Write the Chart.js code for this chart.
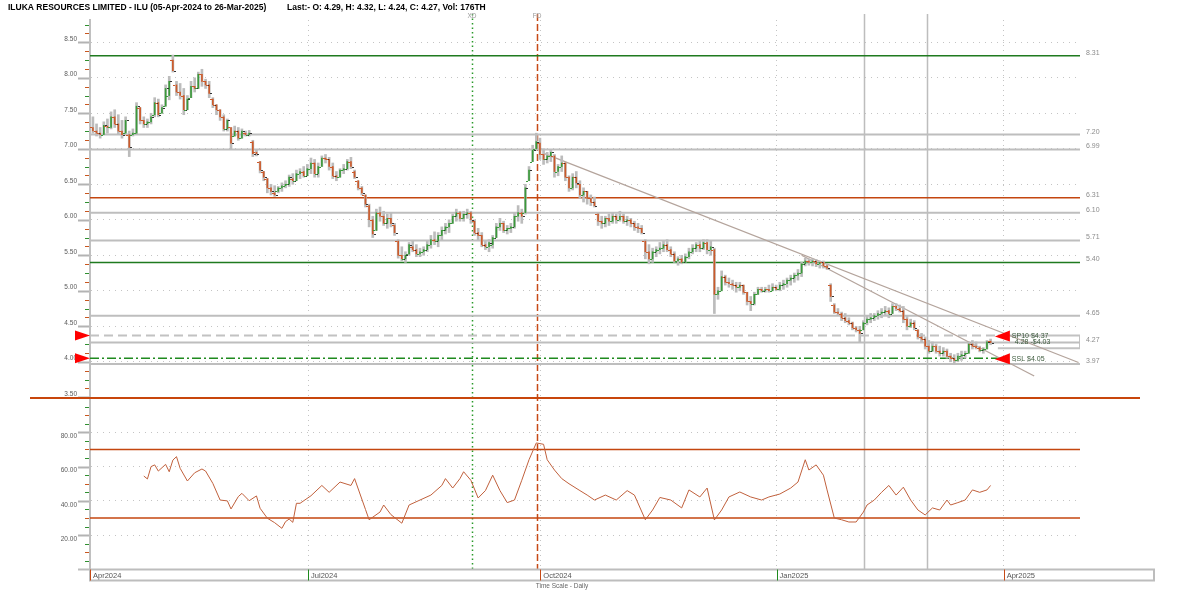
<!DOCTYPE html>
<html>
<head>
<meta charset="utf-8">
<title>ILU daily</title>
<script src="https://cdn.jsdelivr.net/npm/chart.js@4.4.1/dist/chart.umd.min.js"></script>
<style>
  html, body { margin: 0; padding: 0; background: #fff; }
  #box { position: relative; width: 1200px; height: 590px; }
</style>
</head>
<body>
<div id="box"><canvas id="priceChart" width="1200" height="590"></canvas></div>
<script>
// daily bars, index 0 = 05-Apr-2024 ... 247 = 26-Mar-2025
const opens = [
  7.30,7.25,7.22,7.20,7.32,7.30,7.45,7.35,7.25,7.22, 7.20,7.20,7.22,7.58,7.40,7.35,7.38,7.48,7.65,7.50,
  7.60,7.75,8.25,7.90,7.80,7.75,7.55,7.72,7.88,7.85, 8.05,7.95,7.90,7.70,7.62,7.55,7.45,7.28,7.30,7.18,
  7.25,7.15,7.22,7.20,7.10,6.95,6.82,6.68,6.58,6.45, 6.38,6.40,6.45,6.48,6.50,6.58,6.55,6.65,6.68,6.62,
  6.72,6.80,6.65,6.75,6.87,6.85,6.75,6.62,6.60,6.70, 6.72,6.82,6.68,6.55,6.45,6.35,6.20,6.00,5.85,6.10,
  6.05,5.95,6.02,5.92,5.70,5.50,5.45,5.52,5.62,5.58, 5.52,5.55,5.58,5.65,5.72,5.70,5.78,5.85,5.90,5.95,
  6.05,6.10,6.02,6.08,6.10,5.98,5.82,5.78,5.65,5.62, 5.65,5.75,5.90,5.95,5.85,5.88,5.90,6.05,6.10,6.10,
  6.55,6.82,7.00,7.08,6.92,6.85,6.90,6.90,6.68,6.75, 6.80,6.60,6.45,6.60,6.50,6.35,6.40,6.30,6.25,6.08,
  5.98,5.95,6.02,5.98,6.05,6.00,6.05,5.98,6.00,5.95, 5.90,5.88,5.70,5.55,5.45,5.55,5.58,5.60,5.65,5.58,
  5.52,5.42,5.45,5.40,5.48,5.55,5.60,5.65,5.60,5.68, 5.58,5.58,4.95,5.00,5.20,5.12,5.10,5.08,5.05,5.08,
  4.98,4.85,4.82,4.95,5.02,5.00,5.02,5.00,5.05,5.02, 5.08,5.10,5.15,5.18,5.22,5.25,5.38,5.42,5.40,5.42,
  5.38,5.40,5.35,5.08,4.80,4.70,4.68,4.62,4.58,4.55, 4.48,4.45,4.45,4.55,4.60,4.62,4.65,4.68,4.70,4.72,
  4.68,4.78,4.75,4.72,4.60,4.50,4.55,4.45,4.35,4.32, 4.22,4.15,4.22,4.15,4.12,4.15,4.08,4.05,4.02,4.08,
  4.10,4.12,4.25,4.22,4.20,4.16,4.18,4.29
];
const highs = [
  7.45,7.35,7.30,7.38,7.42,7.52,7.55,7.48,7.40,7.45, 7.25,7.28,7.65,7.58,7.45,7.42,7.50,7.72,7.70,7.62,
  7.90,8.02,8.32,7.95,7.92,7.85,7.75,7.95,8.00,8.08, 8.12,7.98,7.95,7.72,7.62,7.55,7.48,7.42,7.30,7.32,
  7.30,7.28,7.25,7.26,7.12,6.98,6.82,6.68,6.58,6.50, 6.48,6.47,6.52,6.55,6.63,6.65,6.70,6.72,6.75,6.78,
  6.87,6.85,6.80,6.90,6.92,6.88,6.80,6.68,6.72,6.78, 6.85,6.88,6.70,6.55,6.47,6.35,6.22,6.05,6.15,6.18,
  6.12,6.08,6.10,5.95,5.72,5.62,5.55,5.68,5.70,5.65, 5.60,5.62,5.70,5.78,5.83,5.82,5.90,5.95,6.00,6.08,
  6.15,6.12,6.12,6.15,6.12,6.00,5.88,5.82,5.70,5.72, 5.78,5.95,6.02,5.98,5.92,5.95,6.10,6.20,6.15,6.50,
  6.75,7.05,7.22,7.15,7.00,6.95,6.98,6.92,6.78,6.90, 6.80,6.62,6.65,6.68,6.55,6.45,6.40,6.35,6.32,6.10,
  6.05,6.05,6.08,6.10,6.08,6.12,6.08,6.05,6.02,5.98, 5.95,5.92,5.72,5.65,5.60,5.62,5.68,5.70,5.72,5.62,
  5.55,5.48,5.50,5.52,5.60,5.65,5.68,5.70,5.72,5.72, 5.70,5.60,5.05,5.28,5.22,5.18,5.15,5.12,5.12,5.08,
  4.98,4.92,4.98,5.05,5.05,5.05,5.08,5.10,5.08,5.12, 5.15,5.18,5.22,5.25,5.30,5.40,5.46,5.45,5.45,5.44,
  5.42,5.42,5.38,5.10,4.82,4.75,4.70,4.68,4.62,4.56, 4.50,4.50,4.58,4.65,4.68,4.68,4.72,4.75,4.78,4.76,
  4.82,4.82,4.80,4.78,4.65,4.60,4.58,4.45,4.40,4.35, 4.30,4.28,4.25,4.22,4.20,4.18,4.12,4.10,4.12,4.15,
  4.15,4.28,4.30,4.28,4.22,4.20,4.30,4.32
];
const lows = [
  7.22,7.18,7.15,7.20,7.22,7.28,7.30,7.20,7.15,7.22, 6.89,7.18,7.20,7.35,7.30,7.30,7.35,7.45,7.45,7.50,
  7.60,7.69,8.08,7.75,7.70,7.48,7.55,7.72,7.80,7.85, 7.88,7.85,7.72,7.58,7.48,7.40,7.25,7.25,7.00,7.18,
  7.12,7.15,7.18,7.18,6.89,6.90,6.66,6.55,6.38,6.35, 6.33,6.38,6.40,6.45,6.47,6.50,6.55,6.58,6.60,6.62,
  6.65,6.60,6.60,6.75,6.80,6.70,6.58,6.55,6.60,6.65, 6.70,6.72,6.58,6.42,6.35,6.18,5.90,5.75,5.85,5.98,
  5.92,5.88,5.90,5.78,5.46,5.42,5.40,5.50,5.55,5.48, 5.48,5.50,5.55,5.60,5.65,5.62,5.72,5.80,5.82,5.95,
  5.98,5.98,5.98,6.02,5.95,5.78,5.72,5.62,5.58,5.55, 5.60,5.75,5.85,5.82,5.80,5.82,5.88,5.98,5.95,6.08,
  6.55,6.82,7.00,6.85,6.78,6.80,6.82,6.60,6.62,6.68, 6.55,6.40,6.42,6.45,6.30,6.25,6.22,6.20,6.18,5.92,
  5.88,5.90,5.92,5.95,5.95,5.98,5.95,5.92,5.90,5.85, 5.82,5.80,5.45,5.38,5.40,5.48,5.52,5.55,5.55,5.48,
  5.40,5.36,5.38,5.40,5.45,5.52,5.55,5.55,5.58,5.52, 5.50,4.68,4.88,5.00,5.08,5.05,5.02,4.98,5.00,4.95,
  4.80,4.72,4.80,4.95,4.98,4.98,4.98,5.00,5.00,5.00, 5.02,5.05,5.08,5.12,5.15,5.20,5.35,5.36,5.35,5.34,
  5.32,5.32,5.30,4.85,4.68,4.65,4.58,4.55,4.52,4.45, 4.42,4.28,4.45,4.52,4.55,4.58,4.60,4.62,4.65,4.62,
  4.68,4.72,4.70,4.55,4.45,4.48,4.45,4.32,4.28,4.18, 4.12,4.15,4.12,4.08,4.08,4.05,4.00,3.97,4.00,4.02,
  4.05,4.12,4.18,4.18,4.14,4.12,4.18,4.24
];
const closes = [
  7.25,7.22,7.20,7.33,7.30,7.45,7.35,7.25,7.20,7.40, 7.02,7.22,7.60,7.40,7.35,7.38,7.45,7.65,7.48,7.58,
  7.85,7.95,8.10,7.80,7.75,7.55,7.70,7.88,7.85,8.05, 7.95,7.90,7.78,7.62,7.55,7.45,7.28,7.40,7.08,7.25,
  7.15,7.25,7.20,7.22,6.93,6.93,6.70,6.60,6.45,6.40, 6.35,6.45,6.48,6.50,6.60,6.55,6.65,6.68,6.62,6.72,
  6.80,6.65,6.75,6.87,6.85,6.75,6.62,6.60,6.70,6.72, 6.82,6.75,6.60,6.45,6.38,6.22,6.00,5.80,6.10,6.05,
  5.95,6.02,5.95,5.82,5.50,5.45,5.50,5.65,5.58,5.52, 5.55,5.58,5.65,5.72,5.70,5.78,5.85,5.90,5.95,6.05,
  6.10,6.02,6.08,6.10,6.00,5.82,5.78,5.65,5.62,5.68, 5.75,5.90,5.95,5.85,5.88,5.90,6.05,6.10,6.05,6.45,
  6.70,6.98,7.10,6.92,6.85,6.90,6.95,6.68,6.75,6.80, 6.60,6.45,6.60,6.52,6.35,6.40,6.30,6.25,6.20,5.98,
  5.95,6.02,5.98,6.05,6.00,6.05,5.98,6.00,5.95,5.90, 5.88,5.82,5.55,5.45,5.55,5.58,5.60,5.65,5.58,5.52,
  5.42,5.45,5.40,5.48,5.55,5.60,5.65,5.60,5.68,5.58, 5.62,4.95,5.00,5.20,5.12,5.10,5.08,5.05,5.08,4.98,
  4.85,4.82,4.95,5.02,5.00,5.02,5.00,5.05,5.02,5.08, 5.10,5.15,5.18,5.22,5.25,5.38,5.42,5.40,5.42,5.38,
  5.40,5.35,5.32,4.92,4.70,4.68,4.62,4.58,4.55,4.48, 4.45,4.40,4.55,4.60,4.62,4.65,4.68,4.70,4.72,4.68,
  4.78,4.75,4.72,4.60,4.50,4.55,4.48,4.35,4.32,4.22, 4.15,4.22,4.15,4.12,4.15,4.08,4.05,4.02,4.08,4.10,
  4.12,4.25,4.22,4.20,4.16,4.18,4.28,4.27
];

// RSI (lower pane), read at these bar indexes
const rsiDays = [
  14,15,16,17,18,20,21,22,23,24, 26,28,30,31,33,35,37,38,40,41,
  43,45,46,48,50,52,53,54,55,56, 57,60,63,65,68,71,72,75,76,79,
  80,82,85,87,90,93,96,97,99,101, 102,104,106,108,110,112,114,116,118,120,
  122,124,125,127,129,131,134,136,138,141, 144,147,149,152,154,156,159,162,164,167,
  169,171,173,175,178,181,184,186,189,192, 194,196,197,199,201,202,204,206,208,210,
  212,213,215,217,219,221,223,225,227,229, 231,233,235,236,238,240,242,244,246,247
];
const rsiValues = [
  54.5,52.8,60,61,57.4,61.3,57,63.8,65.8,59, 51.6,56.4,58.6,57.4,50.2,40.5,40,35.3,42.5,44.4,
  40.1,42.9,35.7,29.9,27.3,24,27.9,29.4,27.5,38.6, 38.6,43,49,45,51,49,53,35,29,33.5,
  37.6,32,27,37.6,40.5,43.4,49,53,47.5,53, 57,52,41.7,46,55,46,39,40.5,52,64,
  73.8,73,64,58,53,50,46,43.4,40.5,43.4, 40.5,46,43.4,29,34.7,42,40.5,35.9,46.4,42.3,
  47.5,28.9,34.7,42.3,45.2,42.3,40.5,42.3,44,47.5, 51,64,58,61,55,46.4,30,29,27.7,27.7,
  33.5,37.6,40.5,45,49,43.4,48,40.5,34.7,31.8, 35.9,34.7,40.5,37.6,39,40.5,46.4,45,46.4,49
];

const titleText = 'ILUKA RESOURCES LIMITED - ILU (05-Apr-2024 to 26-Mar-2025)';
const lastText = 'Last:- O: 4.29, H: 4.32, L: 4.24, C: 4.27, Vol: 176TH';
const monthDays = [-0.8, 59.2, 123.1, 188.1, 250.6];
const monthLabels = ['Apr2024', 'Jul2024', 'Oct2024', 'Jan2025', 'Apr2025'];
const priceMajorTicks = [3.5, 4.0, 4.5, 5.0, 5.5, 6.0, 6.5, 7.0, 7.5, 8.0, 8.5];
const rsiMajorTicks = [20, 40, 60, 80];
const levelPrices = [8.31, 7.20, 6.99, 6.31, 6.10, 5.71, 5.40, 4.65, 4.27, 3.97];
const levelLabels = ['8.31', '7.20', '6.99', '6.31', '6.10', '5.71', '5.40', '4.65', '4.27', '3.97'];
const rsiBands = [70, 30];
const trendStartDay = [123.9, 195];
const trendStartPrice = [6.94, 5.50];
const trendEndDay = [271.2, 259];
const trendEndPrice = [3.99, 3.80];
const stopDay = 249;
const stopPrices = [4.37, 4.05];
const stopLabels = ['SP10 $4.37', 'SSL $4.05'];
const boxPrices = [4.37, 4.19];
const boxLabel = '4.28 -$4.03';
const eventDays = [104.3, 122.2];
const eventLabels = ['XD', 'FD'];
const markerDays = [212.3, 229.6];

const X_MIN = -0.8, X_MAX = 271.6;
const UP = '#3a9a3a', DOWN = '#cc5a2a', FONT = '"Liberation Sans", Arial, sans-serif';
const isMult = (v, s) => Math.abs(v / s - Math.round(v / s)) < 1e-6;
const nearIn = (v, arr) => arr.some(a => Math.abs(a - v) < 1e-6);

function levelColor(p) {
  if (p === 8.31 || p === 5.40) return '#1f7a1f';
  if (p === 6.31) return '#c4460f';
  return '#bebebe';
}

function flatLine(p, from, to, axis, color, width, dash) {
  return {
    type: 'line', yAxisID: axis, order: 6,
    data: [{ x: from, y: p }, { x: to, y: p }],
    borderColor: color, borderWidth: width, borderDash: dash || [],
    pointRadius: 0, fill: false
  };
}

const datasets = [];
datasets.push({
  type: 'bar', yAxisID: 'y', order: 2, grouped: false,
  data: opens.map((o, i) => ({ x: i, y: [o, closes[i]] })),
  backgroundColor: c => closes[c.dataIndex] >= opens[c.dataIndex] ? UP : DOWN,
  barThickness: 1, borderWidth: 0
});
datasets.push({
  type: 'bar', yAxisID: 'y', order: 3, grouped: false,
  data: highs.map((h, i) => ({ x: i, y: [lows[i], h] })),
  backgroundColor: '#bcbcbc', barThickness: 2, borderWidth: 0
});
datasets.push({
  type: 'line', yAxisID: 'rsi', order: 1,
  data: rsiDays.map((d, k) => ({ x: d, y: rsiValues[k] })),
  borderColor: '#c0603c', borderWidth: 1, pointRadius: 0, fill: false, tension: 0
});
levelPrices.forEach(p => {
  const w = levelColor(p) === '#bebebe' ? 2 : 1.5;
  datasets.push(flatLine(p, X_MIN, X_MAX, 'y', levelColor(p), w));
});
rsiBands.forEach(v => datasets.push(flatLine(v, X_MIN, X_MAX, 'rsi', '#c4460f', 1.5)));
datasets.push(flatLine(stopPrices[0], X_MIN, stopDay, 'y', '#c2c2c2', 2, [9, 5]));
datasets.push(flatLine(stopPrices[1], X_MIN, stopDay, 'y', '#1f8a1f', 1.5, [9, 3, 2, 3]));
datasets.push({
  type: 'line', yAxisID: 'y', order: 6,
  data: [{ x: stopDay, y: boxPrices[0] }, { x: X_MAX, y: boxPrices[0] },
         { x: X_MAX, y: boxPrices[1] }, { x: stopDay, y: boxPrices[1] }],
  borderColor: '#c2c2c2', borderWidth: 2, pointRadius: 0, fill: false
});
trendStartDay.forEach((d, k) => {
  datasets.push({
    type: 'line', yAxisID: 'y', order: 5,
    data: [{ x: d, y: trendStartPrice[k] }, { x: trendEndDay[k], y: trendEndPrice[k] }],
    borderColor: '#b4a49c', borderWidth: 1.3, pointRadius: 0, fill: false
  });
});

function vline(ctx, px, y1, y2) {
  ctx.beginPath(); ctx.moveTo(px, y1); ctx.lineTo(px, y2); ctx.stroke();
}

const overlay = {
  id: 'overlay',
  beforeDatasetsDraw(chart) {
    const { ctx, scales: { x, y, rsi } } = chart;
    const top = y.top - 6, bottom = rsi.bottom;
    ctx.save();
    ctx.strokeStyle = '#bdbdbd'; ctx.lineWidth = 1.5;
    markerDays.forEach(d => vline(ctx, Math.round(x.getPixelForValue(d)) + 0.5, top, bottom));
    ctx.lineWidth = 1.5;
    ctx.strokeStyle = '#2a9a2a'; ctx.setLineDash([1.5, 3]);
    vline(ctx, Math.round(x.getPixelForValue(eventDays[0])) + 0.5, top, bottom);
    ctx.strokeStyle = '#c64a16'; ctx.setLineDash([7, 3]);
    vline(ctx, Math.round(x.getPixelForValue(eventDays[1])) + 0.5, top, bottom);
    ctx.restore();
  },
  afterDatasetsDraw(chart) {
    const { ctx, scales: { x, y } } = chart;
    ctx.save();
    closes.forEach((c, i) => {
      const px = Math.round(x.getPixelForValue(i));
      ctx.fillStyle = c >= opens[i] ? UP : DOWN;
      ctx.fillRect(px - 3, Math.round(y.getPixelForValue(opens[i])), 2, 1);
      ctx.fillStyle = '#333';
      ctx.fillRect(px + 1, Math.round(y.getPixelForValue(c)), 2, 1);
    });
    ctx.restore();
  },
  afterDraw(chart) {
    const { ctx, scales: { x, y, rsi } } = chart;
    ctx.save();
    // axis tick marks
    [[y, priceMajorTicks], [rsi, rsiMajorTicks]].forEach(([s, majors]) => {
      s.ticks.forEach((t, k) => {
        const py = Math.round(s.getPixelForValue(t.value)) + 0.5;
        const major = nearIn(t.value, majors);
        ctx.strokeStyle = major ? '#b3b3b3' : (k % 2 ? '#c8561f' : '#2f8f2f');
        ctx.lineWidth = major ? 2 : 1;
        ctx.beginPath(); ctx.moveTo(major ? 78 : 85, py); ctx.lineTo(s.right - 1, py); ctx.stroke();
      });
    });
    // pane separator
    ctx.strokeStyle = '#c8460c'; ctx.lineWidth = 2;
    ctx.beginPath(); ctx.moveTo(30, rsi.top); ctx.lineTo(1140, rsi.top); ctx.stroke();
    // time axis box
    ctx.strokeStyle = '#bdbdbd'; ctx.lineWidth = 2;
    ctx.strokeRect(x.left, x.top, 1154 - x.left, 11);
    ctx.beginPath(); ctx.moveTo(78, x.top); ctx.lineTo(x.left, x.top); ctx.stroke();
    ctx.lineWidth = 1;
    monthDays.forEach((d, k) => {
      ctx.strokeStyle = k % 2 ? '#1f8a1f' : '#c64a16';
      vline(ctx, Math.round(x.getPixelForValue(d)) + 0.5, x.top, x.top + 11);
    });
    ctx.fillStyle = '#666'; ctx.font = '6.5px ' + FONT;
    ctx.textAlign = 'center'; ctx.textBaseline = 'middle';
    ctx.fillText('Time Scale - Daily', 562, 586);
    // event labels
    ctx.fillStyle = '#999';
    eventDays.forEach((d, k) => ctx.fillText(eventLabels[k], x.getPixelForValue(d), 16));
    // right level labels
    ctx.textAlign = 'left'; ctx.fillStyle = '#8c8c8c'; ctx.font = '7px ' + FONT;
    levelPrices.forEach((p, k) => ctx.fillText(levelLabels[k], 1086, y.getPixelForValue(p) - 3));
    // stop arrows
    const sx = x.getPixelForValue(stopDay);
    stopPrices.forEach((p, k) => {
      const py = y.getPixelForValue(p);
      ctx.fillStyle = '#ff0000';
      ctx.beginPath(); ctx.moveTo(x.left, py); ctx.lineTo(x.left - 15, py - 5); ctx.lineTo(x.left - 15, py + 5); ctx.closePath(); ctx.fill();
      ctx.beginPath(); ctx.moveTo(sx - 3, py + 1); ctx.lineTo(sx + 12, py - 5); ctx.lineTo(sx + 12, py + 6); ctx.closePath(); ctx.fill();
      ctx.fillStyle = '#3c5a3c'; ctx.font = '7px ' + FONT;
      ctx.fillText(stopLabels[k], sx + 14, py + 1);
    });
    ctx.fillText(boxLabel, sx + 17, y.getPixelForValue(boxPrices[0]) + 7);
    // heading
    ctx.fillStyle = '#000'; ctx.font = 'bold 8.5px ' + FONT;
    ctx.fillText(titleText, 8, 8);
    ctx.fillText(lastText, 287, 8);
    ctx.restore();
  }
};

const axisFont = { family: FONT, size: 6.5 };
new Chart(document.getElementById('priceChart'), {
  type: 'line',
  data: { datasets },
  plugins: [overlay],
  options: {
    responsive: false, animation: false, devicePixelRatio: 1, events: [],
    layout: { padding: { left: 0, right: 120, top: 20, bottom: 9.5 } },
    plugins: { legend: { display: false }, tooltip: { enabled: false } },
    scales: {
      x: {
        type: 'linear', min: X_MIN, max: X_MAX, offset: false,
        afterFit: s => { s.height = 11; },
        afterBuildTicks: s => { s.ticks = monthDays.map(v => ({ value: v })); },
        ticks: {
          autoSkip: false, maxRotation: 0, align: 'start', labelOffset: 3, padding: 2,
          color: '#555', font: { family: FONT, size: 7.5 },
          callback: (v, i) => monthLabels[i]
        },
        grid: { offset: false, drawTicks: false, color: '#c4c4c4', lineWidth: 1 },
        border: { display: false, dash: [1, 4] }
      },
      rsi: {
        type: 'linear', position: 'left', stack: 'panes', stackWeight: 1, min: 0, max: 100,
        afterFit: s => { s.width = 90; },
        afterBuildTicks: s => { const t = []; for (let v = 5; v <= 95; v += 5) t.push({ value: v }); s.ticks = t; },
        ticks: {
          autoSkip: false, padding: 13, labelOffset: 4, color: '#5a5a5a', font: axisFont,
          callback: v => nearIn(v, rsiMajorTicks) ? v.toFixed(2) : ''
        },
        grid: { drawTicks: false, color: c => c.tick && nearIn(c.tick.value, rsiMajorTicks) ? '#c4c4c4' : 'rgba(0,0,0,0)' },
        border: { color: '#c0c0c0', width: 2, dash: [1, 5] }
      },
      y: {
        type: 'linear', position: 'left', stack: 'panes', stackWeight: 2.204, min: 3.49, max: 8.814,
        afterFit: s => { s.width = 90; },
        afterBuildTicks: s => { const t = []; for (let k = 28; k <= 70; k++) t.push({ value: k * 0.125 }); s.ticks = t; },
        ticks: {
          autoSkip: false, padding: 13, labelOffset: -3.5, color: '#5a5a5a', font: axisFont,
          callback: v => nearIn(v, priceMajorTicks) ? v.toFixed(2) : ''
        },
        grid: { drawTicks: false, color: c => c.tick && isMult(c.tick.value, 0.5) ? '#c4c4c4' : 'rgba(0,0,0,0)' },
        border: { color: '#c0c0c0', width: 2, dash: [1, 5] }
      }
    }
  }
});
</script>
</body>
</html>
